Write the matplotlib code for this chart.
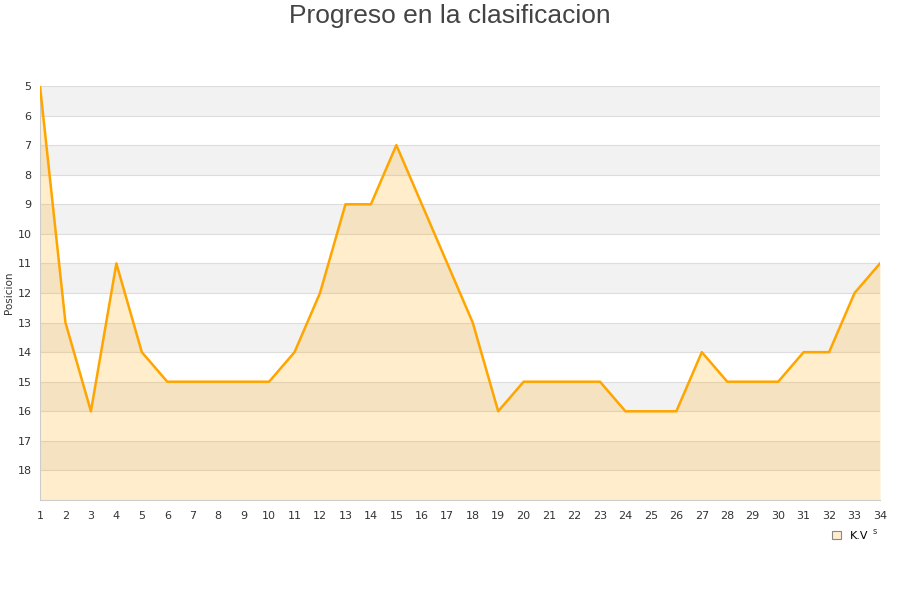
import matplotlib
matplotlib.use("Agg")
import matplotlib.pyplot as plt

jornadas = list(range(1, 35))
posicion = [5, 13, 16, 11, 14, 15, 15, 15, 15, 15, 14, 12, 9, 9, 7, 9, 11, 13, 16, 15,
            15, 15, 15, 16, 16, 16, 14, 15, 15, 15, 14, 14, 12, 11]
yticks = list(range(5, 19))
serie = "K.V"

fig = plt.figure(figsize=(9, 6), dpi=100)
ax = fig.add_axes([40/900, 1-500/600, 840/900, 414/600])

ax.set_xlim(1, 34)
ax.set_ylim(19, 5)

for y in range(5, 19, 2):
    ax.axhspan(y, y+1, color="#f2f2f2", zorder=0, lw=0)
for y in range(5, 20):
    ax.axhline(y, color="#dddddd", lw=0.8, zorder=1)

ax.fill_between(jornadas, posicion, 19, color="#ffa500", alpha=0.2, lw=0, zorder=2)
ax.plot(jornadas, posicion, color="#ffa500", lw=1.8, zorder=3, label=serie)

ax.set_xticks(jornadas)
ax.set_xticklabels([str(j) for j in jornadas], fontsize=8, color="#333333")
ax.set_yticks(yticks)
ax.set_yticklabels([str(t) for t in yticks], fontsize=8, color="#333333")
ax.tick_params(length=0, pad=8)
ax.tick_params(axis="y", pad=6)
for s in ["top", "right"]:
    ax.spines[s].set_visible(False)
for s in ["left", "bottom"]:
    ax.spines[s].set_color("#cccccc")
ax.set_ylabel("Posicion", fontsize=7.5, color="#333333")
ax.yaxis.set_label_coords(-25.5/840, 0.5)

fig.text(0.5, 1-16/600, "Progreso en la clasificacion", ha="center", va="center",
         fontsize=19, color="#444444", family="Liberation Sans")

leg_handle = plt.Rectangle((0, 0), 1, 1, facecolor="#ffedcc", edgecolor="#888888", lw=0.8)
fig.legend([leg_handle], [serie], loc="center", bbox_to_anchor=(850/900, 1-536/600),
           frameon=False, fontsize=8, handlelength=0.8, handleheight=0.8, handletextpad=0.8)
fig.text(875/900, 1-532/600, "s", fontsize=6, color="#333333", ha="center", va="center")

fig.savefig("out.png", dpi=100)
